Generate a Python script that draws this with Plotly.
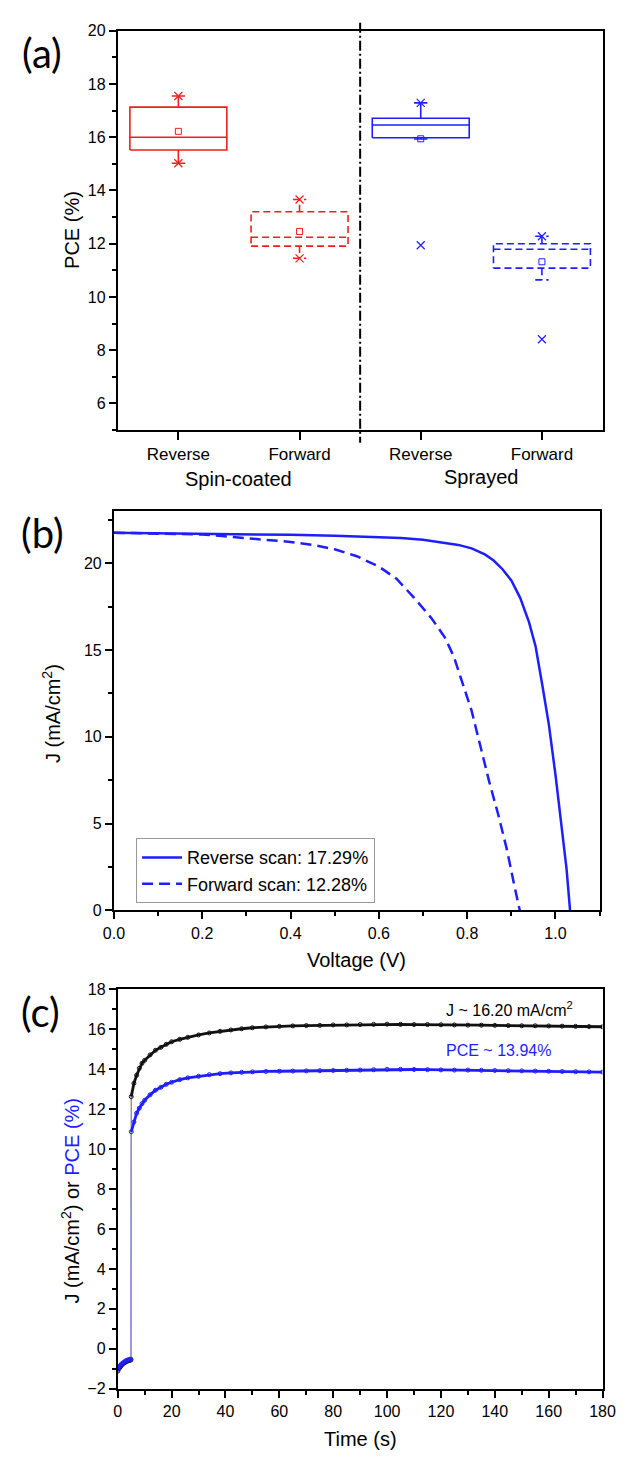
import plotly.graph_objects as go

# ---------------- Panel (a): PCE box statistics ----------------
box_pos = [0, 1, 2, 3]
box_ticks = ["Reverse", "Forward", "Reverse", "Forward"]
group_names = ["Spin-coated", "Sprayed"]
group_pos = [0.5, 2.5]
q1 = [15.52, 11.91, 15.98, 11.08]
median = [16.00, 12.24, 16.46, 11.79]
q3 = [17.13, 13.20, 16.71, 12.00]
whisker_lo = [15.02, 11.45, 15.93, 10.64]
whisker_hi = [17.55, 13.66, 17.29, 12.28]
mean_val = [16.22, 12.46, 15.94, 11.32]
min_val = [15.02, 11.45, 11.94, 8.41]
max_val = [17.55, 13.66, 17.29, 12.28]

# ---------------- Panel (b): J-V curves ----------------
v_rev = [0.00, 0.10, 0.20, 0.30, 0.40, 0.50, 0.60, 0.65, 0.70, 0.74, 0.78, 0.81,
         0.84, 0.86, 0.88, 0.90, 0.92, 0.94, 0.955, 0.97, 0.985, 1.00, 1.015, 1.025, 1.033]
j_rev = [21.75, 21.73, 21.70, 21.67, 21.63, 21.58, 21.50, 21.45, 21.35, 21.22, 21.05, 20.85,
         20.50, 20.15, 19.65, 19.00, 18.00, 16.60, 15.20, 13.00, 10.70, 7.80, 4.60, 2.40, 0.00]
v_fwd = [0.00, 0.10, 0.20, 0.25, 0.30, 0.35, 0.40, 0.45, 0.50, 0.55, 0.60, 0.64,
         0.68, 0.72, 0.75, 0.77, 0.79, 0.81, 0.83, 0.85, 0.87, 0.89, 0.905, 0.919]
j_fwd = [21.75, 21.72, 21.65, 21.55, 21.45, 21.35, 21.22, 21.05, 20.80, 20.40, 19.80, 19.10,
         18.00, 16.80, 15.70, 14.60, 13.10, 11.50, 9.45, 7.40, 5.55, 3.50, 1.65, 0.00]
legend_names = ["Reverse scan: 17.29%", "Forward scan: 12.28%"]

# ---------------- Panel (c): stabilized output ----------------
t_pre = [0.0, 0.5, 1.0, 1.5, 2.0, 2.5, 3.0, 3.5, 4.0, 4.5, 4.9]
j_pre = [-1.12, -1.00, -0.90, -0.82, -0.75, -0.70, -0.66, -0.62, -0.60, -0.58, -0.56]
pce_pre = [-1.00, -0.90, -0.82, -0.75, -0.70, -0.65, -0.60, -0.57, -0.55, -0.53, -0.52]
t_post = [5, 6, 7, 8, 9, 10, 12, 14, 16, 18, 20, 23, 26, 30, 34, 38, 42, 46, 50, 55, 60,
          65, 70, 75, 80, 85, 90, 95, 100, 105, 110, 115, 120, 125, 130, 135, 140, 145,
          150, 155, 160, 165, 170, 175, 180]
j_post = [12.63, 13.30, 13.70, 14.05, 14.30, 14.45, 14.72, 14.95, 15.10, 15.25, 15.38, 15.50,
          15.60, 15.72, 15.82, 15.90, 15.97, 16.03, 16.08, 16.12, 16.15, 16.17, 16.19, 16.20,
          16.22, 16.22, 16.24, 16.25, 16.26, 16.25, 16.24, 16.24, 16.23, 16.22, 16.21, 16.21,
          16.20, 16.19, 16.18, 16.18, 16.17, 16.16, 16.15, 16.14, 16.13]
pce_post = [10.87, 11.36, 11.80, 12.05, 12.28, 12.45, 12.72, 12.95, 13.10, 13.25, 13.35, 13.48,
            13.57, 13.65, 13.73, 13.78, 13.82, 13.85, 13.87, 13.89, 13.90, 13.91, 13.92, 13.93,
            13.94, 13.95, 13.96, 13.98, 14.00, 14.00, 13.99, 13.98, 13.97, 13.96, 13.96, 13.95,
            13.94, 13.93, 13.92, 13.91, 13.90, 13.89, 13.88, 13.87, 13.86]
note_j = "J ~ 16.20 mA/cm<sup>2</sup>"
note_pce = "PCE ~ 13.94%"
note_t = 121
note_j_y = 17.0
note_pce_y = 14.96

# ---------------- styles ----------------
FONT = "Arial, Liberation Sans, sans-serif"
LBL_FONT = "Lato, Open Sans, sans-serif"
RED = "#f01e1e"
BLUE = "#1e1eff"
box_colors = [RED, RED, BLUE, BLUE]
box_dash = ["solid", "7px,4px", "solid", "7px,4px"]
W, H = 629, 1458


def px_x(p):
    return p / W


def px_y(p):
    return 1 - p / H


fig = go.Figure()

HW, CW = 0.4, 0.055
for i, x in enumerate(box_pos):
    c, d = box_colors[i], box_dash[i]
    common = dict(mode="lines", line=dict(color=c, width=1.6, dash=d), xaxis="x", yaxis="y",
                  showlegend=False, hoverinfo="skip")
    fig.add_trace(go.Scatter(x=[x - HW, x + HW, x + HW, x - HW, x - HW],
                             y=[q1[i], q1[i], q3[i], q3[i], q1[i]], **common))
    fig.add_trace(go.Scatter(x=[x - HW, x + HW], y=[median[i], median[i]], **common))
    fig.add_trace(go.Scatter(x=[x, x, None, x, x],
                             y=[q3[i], whisker_hi[i], None, q1[i], whisker_lo[i]], **common))
    fig.add_trace(go.Scatter(x=[x - CW, x + CW, None, x - CW, x + CW],
                             y=[whisker_hi[i], whisker_hi[i], None, whisker_lo[i], whisker_lo[i]],
                             **common))
    fig.add_trace(go.Scatter(x=[x, x], y=[max_val[i], min_val[i]], mode="markers",
                             marker=dict(symbol="x-thin", size=8, line=dict(color=c, width=1.2)),
                             xaxis="x", yaxis="y", showlegend=False, hoverinfo="skip"))
    fig.add_trace(go.Scatter(x=[x], y=[mean_val[i]], mode="markers",
                             marker=dict(symbol="square-open", size=6, color=c, line=dict(width=1)),
                             xaxis="x", yaxis="y", showlegend=False, hoverinfo="skip"))

# Panel (b)
fig.add_trace(go.Scatter(x=v_rev, y=j_rev, mode="lines", name=legend_names[0],
                         line=dict(color=BLUE, width=2.5), xaxis="x2", yaxis="y2"))
fig.add_trace(go.Scatter(x=v_fwd, y=j_fwd, mode="lines", name=legend_names[1],
                         line=dict(color=BLUE, width=2.5, dash="11px,6px"), xaxis="x2", yaxis="y2"))

# Panel (c)
series_c = [(j_pre, j_post, "#111111", "#7a7a7a"), (pce_pre, pce_post, BLUE, "#8c8cff")]
for pre, post, col, light in series_c:
    fig.add_trace(go.Scatter(x=[t_pre[-1], t_post[0]], y=[pre[-1], post[0]], mode="lines",
                             line=dict(color=light, width=1.2), xaxis="x3", yaxis="y3",
                             showlegend=False, hoverinfo="skip"))
    fig.add_trace(go.Scatter(x=t_pre, y=pre, mode="lines+markers",
                             line=dict(color=col, width=2.5),
                             marker=dict(symbol="circle-open", size=4, color=col),
                             xaxis="x3", yaxis="y3", showlegend=False, hoverinfo="skip"))
    fig.add_trace(go.Scatter(x=t_post, y=post, mode="lines+markers",
                             line=dict(color=col, width=2.8),
                             marker=dict(symbol="circle-open", size=4, color=col),
                             xaxis="x3", yaxis="y3", showlegend=False, hoverinfo="skip"))

tick_font = dict(family=FONT, size=16, color="black")
axis_common = dict(showline=True, linecolor="black", linewidth=2, mirror=True,
                   ticks="outside", tickwidth=1.5, tickcolor="black",
                   showgrid=False, zeroline=False)


def minor(dt):
    return dict(dtick=dt, ticks="outside", ticklen=4, tickwidth=1.5, tickcolor="black",
                showgrid=False)


fig.update_layout(
    width=W, height=H, margin=dict(l=0, r=0, t=0, b=0),
    paper_bgcolor="white", plot_bgcolor="white",
    font=dict(family=FONT, color="black"),
    xaxis=dict(domain=[px_x(111), px_x(615)], anchor="y", range=[-0.5, 3.5],
               tickmode="array", tickvals=box_pos, ticktext=box_ticks, ticklen=8,
               tickfont=dict(family=FONT, size=17, color="black"), **axis_common),
    yaxis=dict(domain=[px_y(427), px_y(23)], anchor="x", range=[5, 20], tick0=0, dtick=2,
               ticklen=7, tickfont=tick_font, minor=minor(1), **axis_common),
    xaxis2=dict(domain=[px_x(107), px_x(612)], anchor="y2", range=[0, 1.1], tick0=0, dtick=0.2,
                ticklen=7, tickfont=tick_font, tickformat=".1f", minor=minor(0.1), **axis_common),
    yaxis2=dict(domain=[px_y(913), px_y(509)], anchor="x2", range=[0, 23], tick0=0, dtick=5,
                ticklen=7, tickfont=tick_font, minor=minor(2.5), **axis_common),
    xaxis3=dict(domain=[px_x(111), px_x(615)], anchor="y3", range=[0, 180], tick0=0, dtick=20,
                ticklen=7, tickfont=tick_font, minor=minor(10), **axis_common),
    yaxis3=dict(domain=[px_y(1397), px_y(993)], anchor="x3", range=[-2, 18], tick0=0, dtick=2,
                ticklen=7, tickfont=tick_font, minor=minor(1), **axis_common),
    legend=dict(x=px_x(130), y=px_y(840), xanchor="left", yanchor="top",
                bordercolor="#999999", borderwidth=1, bgcolor="white",
                font=dict(family=FONT, size=18, color="black"), tracegroupgap=0, itemwidth=40),
    showlegend=True,
)

# divider (dash-dot) between groups in panel (a)
fig.add_shape(type="line", xref="x", yref="paper", x0=1.5, x1=1.5, y0=px_y(15), y1=px_y(440),
              line=dict(color="black", width=2, dash="10px,3px,2px,3px"))

ann = []
for lbl, cx, cy in [("(a)", 32, 46), ("(b)", 33, 531), ("(c)", 31, 1016)]:
    ann.append(dict(text=lbl, xref="paper", yref="paper", x=px_x(cx), y=px_y(cy),
                    xanchor="center", yanchor="middle", showarrow=False,
                    font=dict(family=LBL_FONT, size=40, color="black")))
for name, gx, gy in zip(group_names, group_pos, [477, 475]):
    ann.append(dict(text=name, xref="x", yref="paper", x=gx, y=px_y(gy), xanchor="center",
                    yanchor="middle", showarrow=False, font=dict(family=FONT, size=20)))
title_font = dict(family=FONT, size=20, color="black")
ann += [
    dict(text="PCE (%)", xref="paper", yref="paper", x=px_x(64), y=px_y(225), textangle=-90,
         showarrow=False, xanchor="center", yanchor="middle", font=title_font),
    dict(text="J (mA/cm<sup>2</sup>)", xref="paper", yref="paper", x=px_x(42), y=px_y(714),
         textangle=-90, showarrow=False, xanchor="center", yanchor="middle", font=title_font),
    dict(text="Voltage (V)", xref="paper", yref="paper", x=px_x(359), y=px_y(963),
         showarrow=False, xanchor="center", yanchor="middle", font=title_font),
    dict(text="J (mA/cm<sup>2</sup>) or <span style='color:" + BLUE + "'>PCE (%)</span>",
         xref="paper", yref="paper", x=px_x(62), y=px_y(1207), textangle=-90,
         showarrow=False, xanchor="center", yanchor="middle", font=title_font),
    dict(text="Time (s)", xref="paper", yref="paper", x=px_x(363), y=px_y(1448),
         showarrow=False, xanchor="center", yanchor="middle", font=title_font),
    dict(text=note_j, xref="x3", yref="y3", x=note_t, y=note_j_y, xanchor="left",
         yanchor="middle", showarrow=False, font=dict(family=FONT, size=16, color="black")),
    dict(text=note_pce, xref="x3", yref="y3", x=note_t, y=note_pce_y, xanchor="left",
         yanchor="middle", showarrow=False, font=dict(family=FONT, size=16, color=BLUE)),
]
fig.update_layout(annotations=ann)

fig.write_html("out.html")
